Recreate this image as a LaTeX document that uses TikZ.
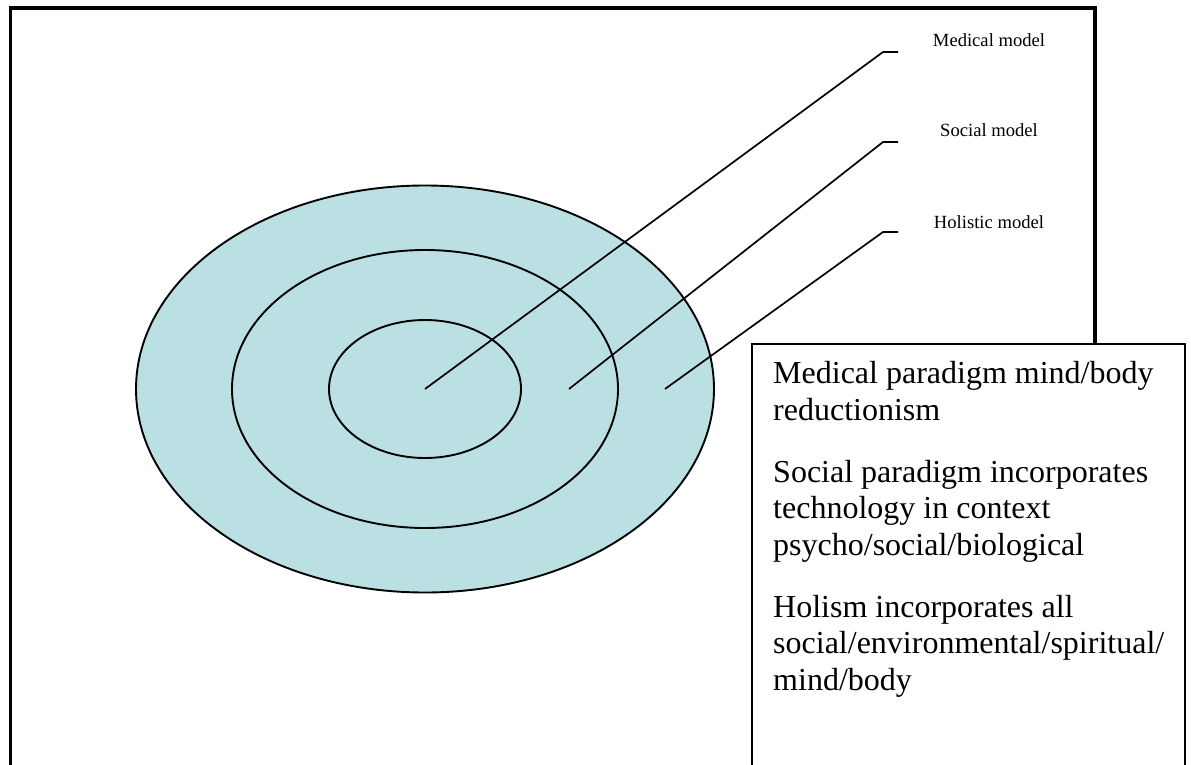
\documentclass[tikz,border=0pt]{standalone}
\usepackage{fontspec}
\setmainfont{Liberation Serif}
\usetikzlibrary{shapes.geometric}
\definecolor{ringfill}{RGB}{187,224,227}
\begin{document}
\begin{tikzpicture}[x=1pt,y=-1pt,
  ring/.style={draw=black,line width=1.9pt,fill=ringfill},
  leader/.style={draw=black,line width=1.7pt},
  modellabel/.style={anchor=base,inner sep=0pt,font=\fontsize{18.6}{22}\selectfont},
  boxline/.style={anchor=base west,inner sep=0pt,font=\fontsize{32}{37}\selectfont}]
\useasboundingbox (0,0) rectangle (1191,765);
% outer frame
\draw[line width=3.2pt] (10.5,775) -- (10.5,8) -- (1095,8) -- (1095,350);
% rings
\node[ring,ellipse,minimum width=578pt,minimum height=407pt,inner sep=0pt] (outer) at (425,389) {};
\node[ring,ellipse,minimum width=386pt,minimum height=278pt,inner sep=0pt] (middle) at (425,389) {};
\node[ring,ellipse,minimum width=192pt,minimum height=138pt,inner sep=0pt] (inner) at (425,389) {};
% leader points
\coordinate (mc) at (425,389);
\coordinate (sc) at (569,389);
\coordinate (hc) at (665,389);
\coordinate (mk) at (883,52);
\coordinate (sk) at (883,142);
\coordinate (hk) at (883,232);
\coordinate (me) at (898,52);
\coordinate (se) at (898,142);
\coordinate (he) at (898,232);
\draw[leader] (mc) -- (mk) -- (me);
\draw[leader] (sc) -- (sk) -- (se);
\draw[leader] (hc) -- (hk) -- (he);
% labels
\node[modellabel] (ml) at (989,47) {Medical model};
\node[modellabel] (sl) at (989,137) {Social model};
\node[modellabel] (hl) at (989,228) {Holistic model};
% text box
\draw[fill=white,line width=1.2pt] (752,344) rectangle (1185,775);
\node[boxline] (b1) at (773,383) {Medical paradigm mind/body};
\node[boxline] (b2) at (773,420) {reductionism};
\node[boxline] (b3) at (773,482) {Social paradigm incorporates};
\node[boxline] (b4) at (773,518) {technology in context};
\node[boxline] (b5) at (773,555) {psycho/social/biological};
\node[boxline] (b6) at (773,617) {Holism incorporates all};
\node[boxline] (b7) at (773,653) {social/environmental/spiritual/};
\node[boxline] (b8) at (773,690) {mind/body};
\end{tikzpicture}
\end{document}
